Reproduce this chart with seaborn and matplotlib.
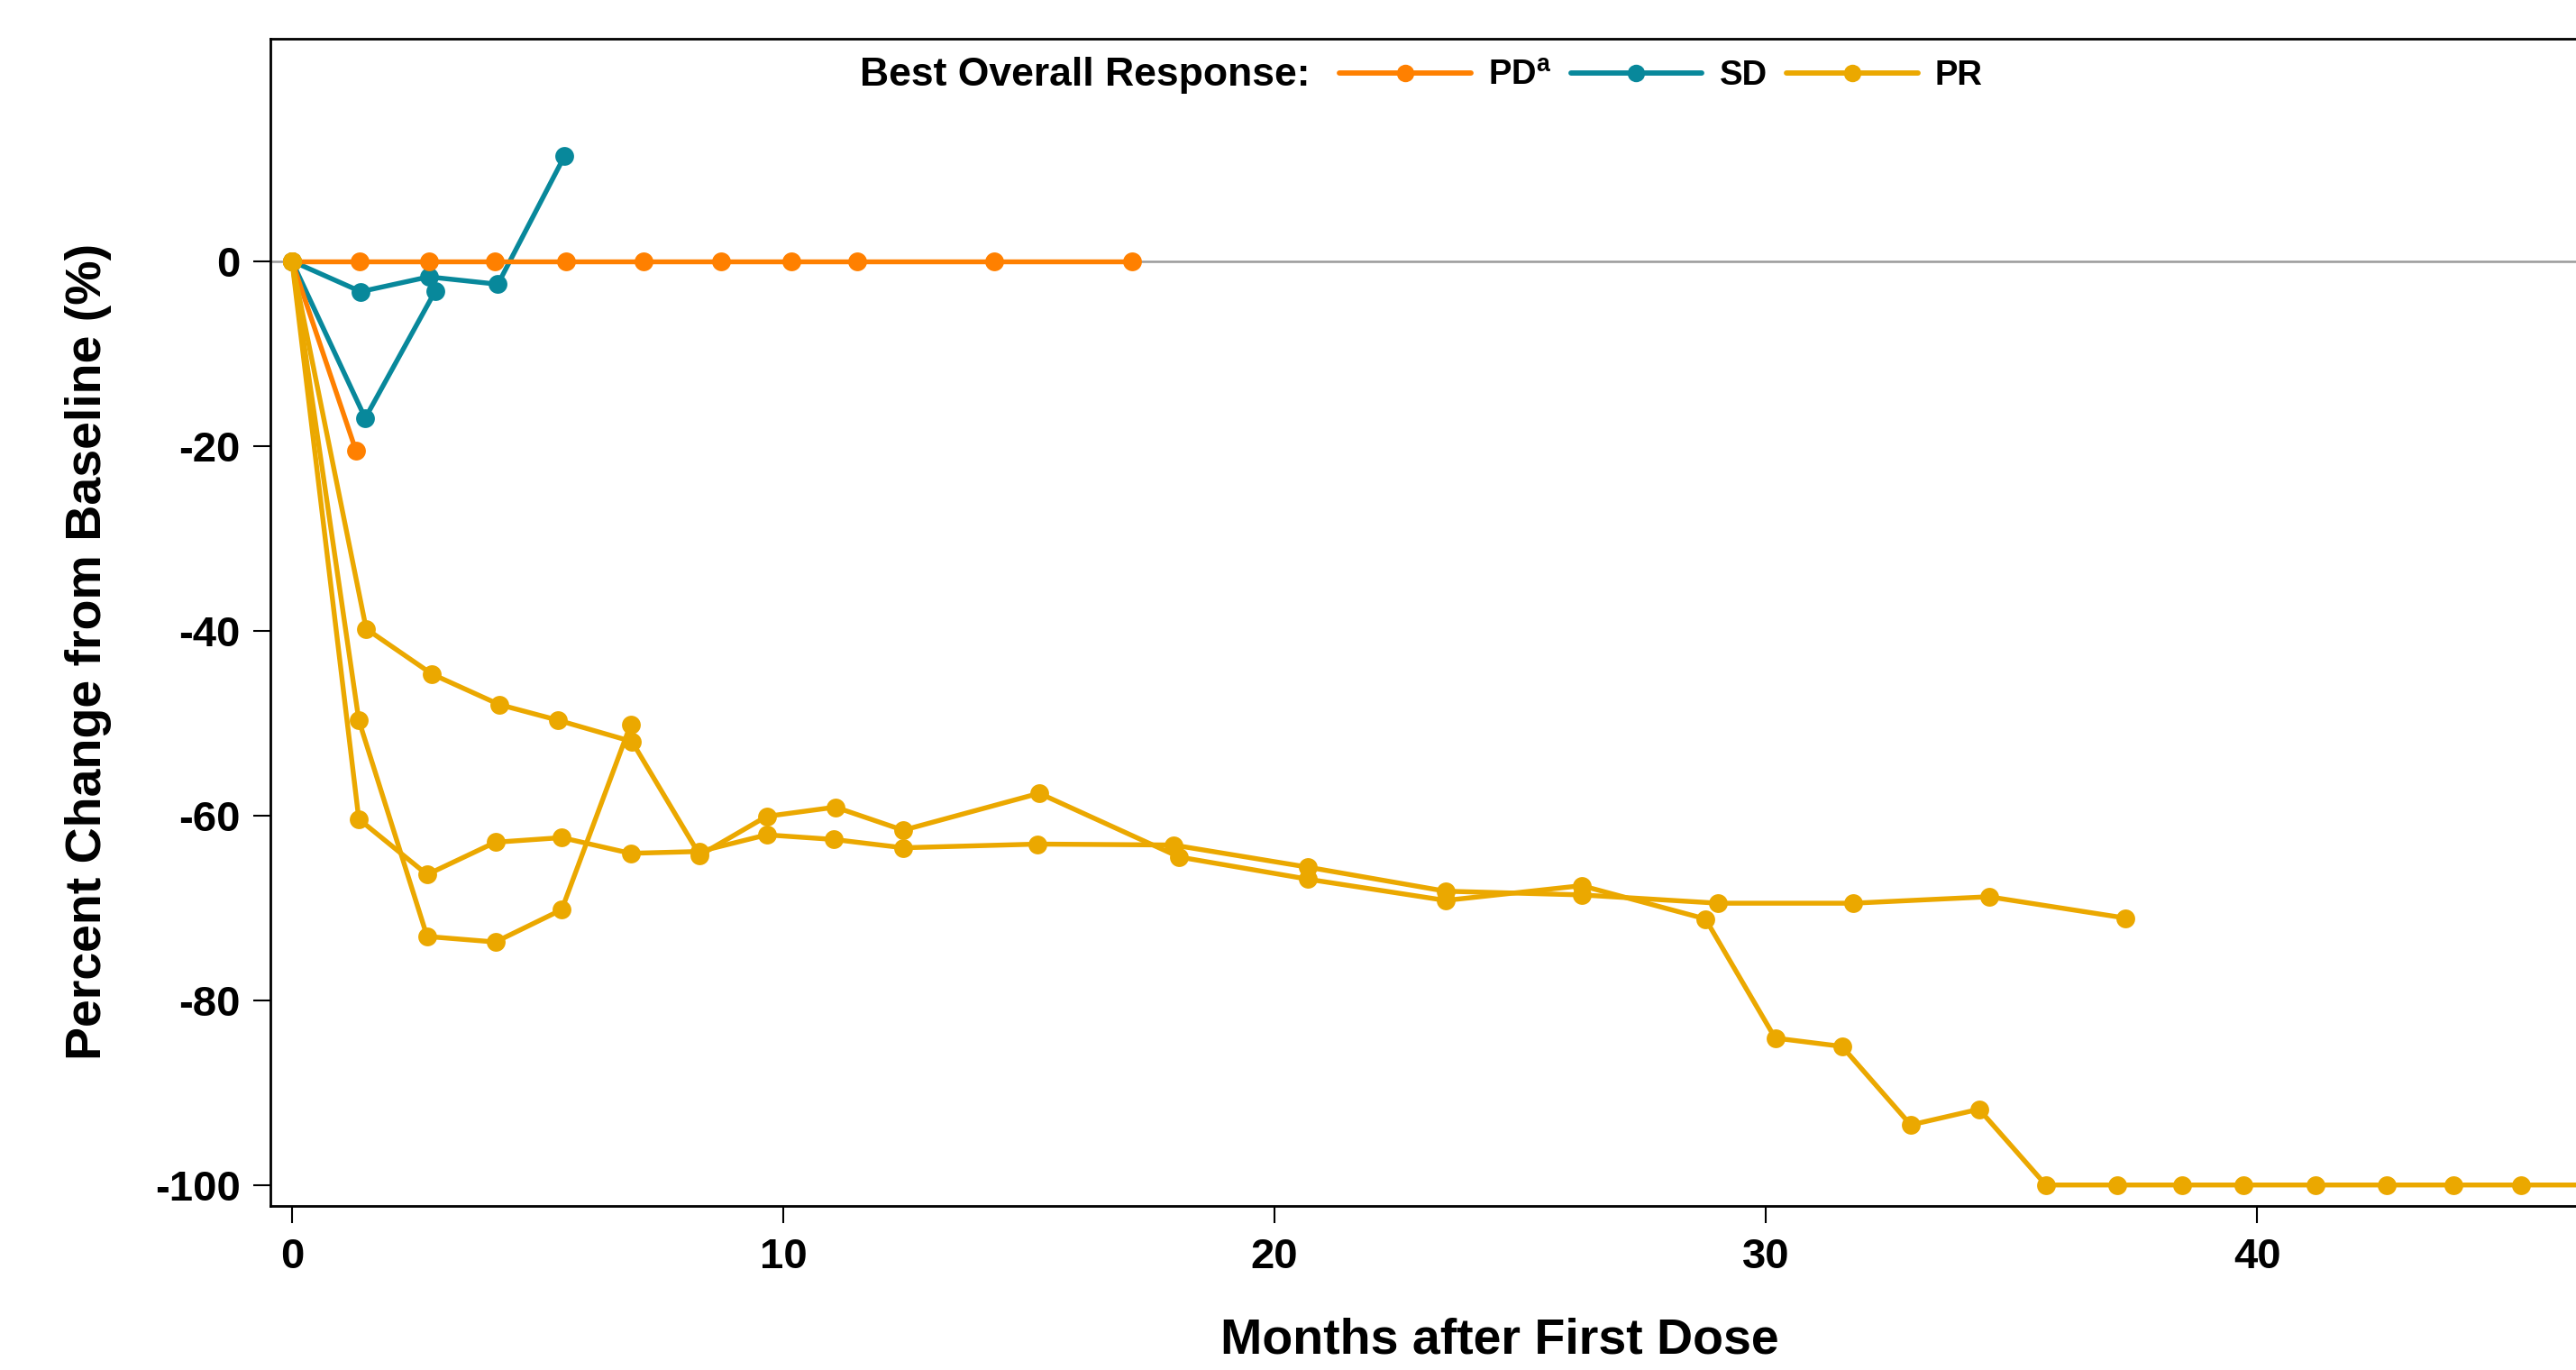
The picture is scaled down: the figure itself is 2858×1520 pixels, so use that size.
import numpy as np
import pandas as pd
import matplotlib
matplotlib.use("Agg")
import matplotlib.pyplot as plt
from matplotlib.lines import Line2D
import seaborn as sns

# ---------------- data ----------------
pd1_months = [0, 1.37, 2.78, 4.13, 5.57, 7.15, 8.74, 10.16, 11.50, 14.29, 17.10]
pd1_pct    = [0, 0, 0, 0, 0, 0, 0, 0, 0, 0, 0]

pd2_months = [0, 1.30]
pd2_pct    = [0, -20.5]

sd1_months = [0, 1.40, 2.78, 4.19, 5.55]
sd1_pct    = [0, -3.3, -1.7, -2.5, 11.4]

sd2_months = [0, 1.49, 2.92]
sd2_pct    = [0, -17.0, -3.2]

pra_months = [0, 1.51, 2.85, 4.22, 5.42, 6.92, 8.30, 9.66, 11.06, 12.44, 15.21,
              18.06, 20.68, 23.48, 26.25, 28.77, 30.19, 31.55, 32.95, 34.34,
              35.70, 37.16, 38.48, 39.72, 41.19, 42.63, 44.00, 45.38, 46.80]
pra_pct    = [0, -39.8, -44.7, -48.0, -49.7, -52.0, -64.3, -60.1, -59.1, -61.6, -57.6,
              -64.5, -66.9, -69.2, -67.6, -71.2, -84.1, -85.0, -93.5, -91.8,
              -100, -100, -100, -100, -100, -100, -100, -100, -100]

prb_months = [0, 1.36, 2.75, 4.14, 5.49, 6.89]
prb_pct    = [0, -49.7, -73.1, -73.7, -70.2, -50.2]

prc_months = [0, 1.36, 2.75, 4.14, 5.49, 6.89, 8.30, 9.66, 11.03, 12.44, 15.18,
              17.94, 20.68, 23.48, 26.25, 29.03, 31.78, 34.54, 37.31]
prc_pct    = [0, -60.4, -66.4, -62.9, -62.4, -64.1, -63.9, -62.1, -62.6, -63.5, -63.1,
              -63.2, -65.6, -68.2, -68.6, -69.5, -69.5, -68.8, -71.1]

responses = ["PD", "SD", "PR"]
legend_labels = [r"PD$^{\mathbf{a}}$", "SD", "PR"]
colors = {"PD": "#FF8000", "SD": "#08889B", "PR": "#EBA800"}

x_ticks = [0, 10, 20, 30, 40]
y_ticks = [0, -20, -40, -60, -80, -100]
x_label = "Months after First Dose"
y_label = "Percent Change from Baseline (%)"
legend_title = "Best Overall Response:"

patients = [
    ("PD-1", "PD", pd1_months, pd1_pct),
    ("PD-2", "PD", pd2_months, pd2_pct),
    ("SD-1", "SD", sd1_months, sd1_pct),
    ("SD-2", "SD", sd2_months, sd2_pct),
    ("PR-A", "PR", pra_months, pra_pct),
    ("PR-B", "PR", prb_months, prb_pct),
    ("PR-C", "PR", prc_months, prc_pct),
]
rows = []
for pid, resp, mm, pp in patients:
    for m, p in zip(mm, pp):
        rows.append({"patient": pid, "response": resp, "month": m, "pct": p})
df = pd.DataFrame(rows)

# ---------------- style ----------------
sns.set_style("ticks")
plt.rcParams["font.family"] = ["Liberation Sans", "DejaVu Sans"]
plt.rcParams["font.weight"] = "bold"
plt.rcParams["mathtext.fontset"] = "custom"
plt.rcParams["mathtext.rm"] = "Liberation Sans:bold"
plt.rcParams["mathtext.bf"] = "Liberation Sans:bold"
plt.rcParams["axes.unicode_minus"] = False
for key in ["text.color", "axes.labelcolor", "xtick.color", "ytick.color",
            "xtick.labelcolor", "ytick.labelcolor", "axes.edgecolor"]:
    plt.rcParams[key] = "black"

W, H = 2858, 1520
fig = plt.figure(figsize=(W / 100, H / 100), dpi=100)
ax_left, ax_right = 300, 3028
ax_top, ax_bottom = 42.7, 1338.3
ax = fig.add_axes([ax_left / W, 1 - ax_bottom / H,
                   (ax_right - ax_left) / W, (ax_bottom - ax_top) / H])

ax.axhline(0, color="#9A9A9A", lw=1.8, zorder=1)

sns.lineplot(data=df, x="month", y="pct", hue="response", units="patient",
             estimator=None, hue_order=["SD", "PD", "PR"], palette=colors,
             marker="o", markersize=15, markeredgewidth=0, linewidth=3.9,
             sort=False, legend=False, ax=ax, zorder=3)

ax.set_xlim(-0.44, 49.61)
ax.set_ylim(-102.3, 24.1)
ax.set_xticks(x_ticks)
ax.set_yticks(y_ticks)
ax.set_xticklabels([str(t) for t in x_ticks], fontsize=34, fontweight="bold")
ax.set_yticklabels([str(t) for t in y_ticks], fontsize=34, fontweight="bold")
ax.tick_params(axis="both", direction="out", length=14, width=1.5,
               color="black", labelcolor="black")
ax.tick_params(axis="x", pad=11)
ax.tick_params(axis="y", pad=10)

for side in ["left", "bottom", "top"]:
    ax.spines[side].set_visible(True)
    ax.spines[side].set_color("black")
    ax.spines[side].set_linewidth(2.0)
ax.spines["right"].set_visible(False)

ax.set_xlabel(x_label, fontsize=40, fontweight="bold", color="black")
ax.set_ylabel(y_label, fontsize=40, fontweight="bold", color="black")
ax.xaxis.set_label_coords(0.5, (ax_bottom - 1462) / (ax_bottom - ax_top))
ax.yaxis.set_label_coords((124 - ax_left) / (ax_right - ax_left), 0.475)

# legend
handles = [Line2D([], [], color=colors[r], lw=4.2, marker="o", ms=14, mew=0)
           for r in responses]
leg = fig.legend(handles, legend_labels, loc="center left",
                 bbox_to_anchor=(1486 / W, 1 - 84 / H), ncol=3, frameon=False,
                 borderpad=0, borderaxespad=0, handlelength=3.82,
                 handletextpad=0.5, columnspacing=0.55, numpoints=1,
                 prop={"size": 27.5, "weight": "bold"})
for t in leg.get_texts():
    t.set_color("black")
fig.text(1453 / W, 1 - 84 / H, legend_title, ha="right", va="center",
         fontsize=32, fontweight="bold", color="black")

fig.savefig("out.png", dpi=100)
